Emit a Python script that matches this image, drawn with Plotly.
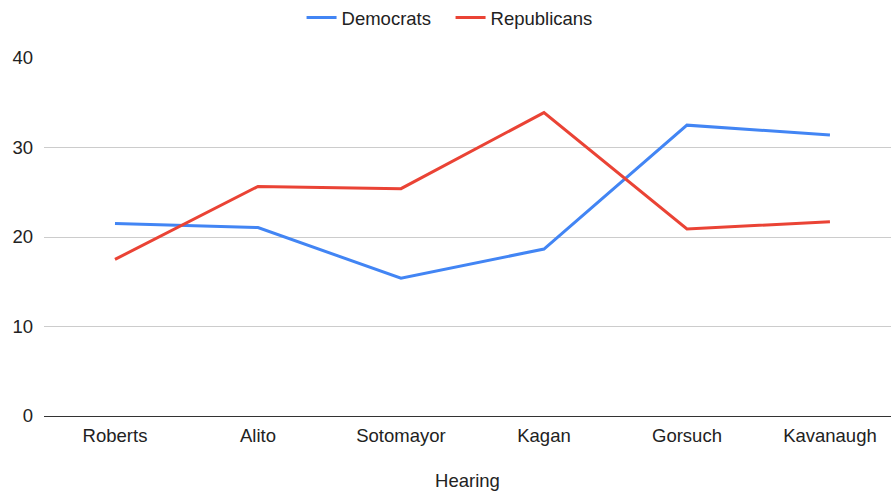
import plotly.graph_objects as go

hearings = ["Roberts", "Alito", "Sotomayor", "Kagan", "Gorsuch", "Kavanaugh"]
democrats = [21.5, 21.05, 15.4, 18.65, 32.5, 31.4]
republicans = [17.5, 25.65, 25.4, 33.9, 20.9, 21.7]
y_ticks = [0, 10, 20, 30, 40]

FONT = "Liberation Sans, Arial, sans-serif"

fig = go.Figure()
fig.add_trace(go.Scatter(x=hearings, y=democrats, mode="lines", name="Democrats",
                         line=dict(color="#4285F4", width=3)))
fig.add_trace(go.Scatter(x=hearings, y=republicans, mode="lines", name="Republicans",
                         line=dict(color="#EA4335", width=3)))

fig.update_layout(
    width=891, height=491,
    margin=dict(l=44, r=0, t=58, b=75, autoexpand=False),
    paper_bgcolor="white", plot_bgcolor="white",
    font=dict(family=FONT, size=18.5, color="#222222"),
    showlegend=True,
    legend=dict(orientation="h", x=0.48, xanchor="center", y=1.112, yanchor="middle",
                entrywidth=104, entrywidthmode="pixels",
                font=dict(size=18.5, color="#222222"), bgcolor="rgba(0,0,0,0)"),
    xaxis=dict(
        type="category", range=[-0.4965, 5.427], showgrid=False,
        showline=True, linecolor="#333333", linewidth=1.3,
        ticks="", ticklabelstandoff=3, tickfont=dict(size=18.5, color="#222222"),
        title=dict(text="Hearing", standoff=33, font=dict(size=18.5, color="#222222")),
        automargin=False, zeroline=False,
    ),
    yaxis=dict(
        range=[0, 40], tickvals=y_ticks, showgrid=True, gridcolor="#CCCCCC", gridwidth=1,
        zeroline=False, showline=False, ticks="", ticklabelstandoff=10,
        tickfont=dict(size=18.5, color="#222222"), automargin=False,
    ),
)

fig.write_html("out.html")
